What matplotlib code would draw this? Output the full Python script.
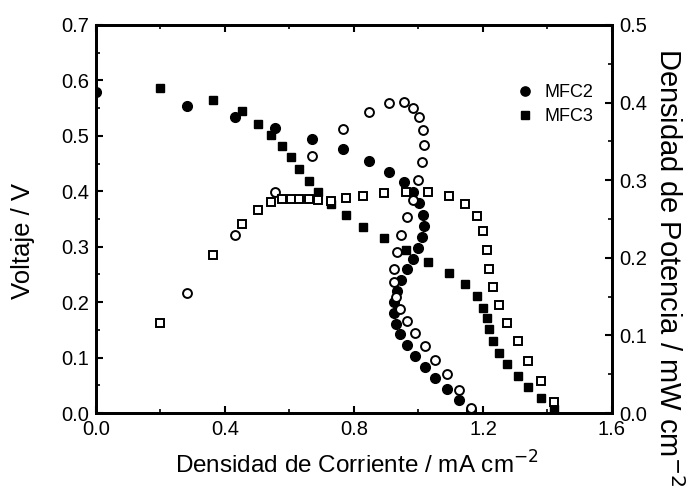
import matplotlib
matplotlib.use("Agg")
import matplotlib.pyplot as plt
from matplotlib.ticker import MultipleLocator, FormatStrFormatter

plt.rcParams['font.family'] = ['Liberation Sans', 'DejaVu Sans']

# MFC2: current density (mA cm-2), voltage (V), power density (mW cm-2)
mfc2_j = [0.0, 0.283, 0.431, 0.555, 0.669, 0.767, 0.848, 0.909, 0.955, 0.984,
          1.003, 1.013, 1.017, 1.011, 0.998, 0.982, 0.963, 0.946, 0.932, 0.924,
          0.924, 0.929, 0.943, 0.963, 0.989, 1.019, 1.051, 1.087, 1.125, 1.163]
mfc2_v = [0.580, 0.554, 0.534, 0.514, 0.495, 0.476, 0.455, 0.435, 0.416, 0.398,
          0.378, 0.357, 0.338, 0.318, 0.297, 0.277, 0.259, 0.240, 0.221, 0.200,
          0.180, 0.161, 0.143, 0.122, 0.102, 0.083, 0.063, 0.044, 0.024, 0.005]
mfc2_p = [None, 0.155, 0.230, 0.285, 0.331, 0.366, 0.388, 0.399, 0.401, 0.393,
          0.381, 0.365, 0.346, 0.323, 0.300, 0.275, 0.252, 0.229, 0.207, 0.186,
          0.169, 0.150, 0.134, 0.119, 0.1035, 0.086, 0.068, 0.050, 0.030, 0.007]

# MFC3: current density (mA cm-2), voltage (V), power density (mW cm-2)
mfc3_j = [0.198, 0.364, 0.452, 0.503, 0.543, 0.576, 0.604, 0.631, 0.659, 0.690,
          0.728, 0.774, 0.827, 0.893, 0.961, 1.031, 1.094, 1.143, 1.182, 1.200,
          1.211, 1.218, 1.230, 1.251, 1.276, 1.308, 1.341, 1.379, 1.420]
mfc3_v = [0.586, 0.564, 0.544, 0.522, 0.502, 0.482, 0.461, 0.440, 0.419, 0.399,
          0.377, 0.357, 0.336, 0.315, 0.294, 0.273, 0.253, 0.232, 0.211, 0.190,
          0.171, 0.152, 0.1305, 0.109, 0.0885, 0.067, 0.0475, 0.027, 0.007]
mfc3_p = [0.116, 0.204, 0.243, 0.262, 0.272, 0.276, 0.276, 0.276, 0.276, 0.275,
          0.273, 0.277, 0.280, 0.284, 0.285, 0.285, 0.280, 0.269, 0.254, 0.234,
          0.210, 0.186, 0.163, 0.139, 0.116, 0.093, 0.067, 0.041, 0.014]

x_ticks = [0.0, 0.4, 0.8, 1.2, 1.6]

fig = plt.figure(figsize=(6.99, 4.96), dpi=100)
ax = fig.add_axes([0.1373, 0.1673, 0.8755 - 0.1373, 0.9496 - 0.1673])
ax2 = ax.twinx()

ax.plot(mfc2_j, mfc2_v, 'o', color='black', ms=7.0, label='MFC2', zorder=3)
ax.plot(mfc3_j, mfc3_v, 's', color='black', ms=6.2, label='MFC3', zorder=3)

p2 = [(j, p) for j, p in zip(mfc2_j, mfc2_p) if p is not None]
ax2.plot([a for a, _ in p2], [b for _, b in p2], 'o', mfc='white', mec='black',
         mew=1.4, ms=6.4, zorder=3)
ax2.plot(mfc3_j, mfc3_p, 's', mfc='white', mec='black', mew=1.4, ms=5.8, zorder=3)

ax.set_xlim(0, 1.6)
ax.set_ylim(0, 0.7)
ax2.set_ylim(0, 0.5)
ax.set_xticks(x_ticks)
ax.set_xticklabels([f"{t:.1f}" for t in x_ticks])
ax.xaxis.set_minor_locator(MultipleLocator(0.2))
ax.yaxis.set_major_locator(MultipleLocator(0.1))
ax.yaxis.set_minor_locator(MultipleLocator(0.05))
ax2.yaxis.set_major_locator(MultipleLocator(0.1))
ax2.yaxis.set_minor_locator(MultipleLocator(0.05))
ax.yaxis.set_major_formatter(FormatStrFormatter('%.1f'))
ax2.yaxis.set_major_formatter(FormatStrFormatter('%.1f'))

for a in (ax, ax2):
    for s in a.spines.values():
        s.set_linewidth(2.0)
tick_fs = 14.5
ax.tick_params(axis='x', which='both', direction='in', top=True, bottom=True,
               labelsize=tick_fs, pad=5)
ax.tick_params(axis='y', which='both', direction='in', left=True, right=False,
               labelsize=tick_fs, pad=5)
ax.tick_params(which='major', length=5, width=1.5)
ax.tick_params(which='minor', length=3, width=1.2)
ax2.tick_params(axis='y', which='both', direction='in', labelsize=tick_fs, pad=5)
ax2.tick_params(which='major', length=5, width=1.5)
ax2.tick_params(which='minor', length=3, width=1.2)

ax.set_xlabel('Densidad de Corriente / mA cm$^{-2}$', fontsize=17.5)
ax.xaxis.set_label_coords(0.505, -0.098)

ax.set_ylabel('Voltaje / V', fontsize=18.5)
ax.yaxis.label.set(va='center', ha='center', rotation_mode='anchor')
ax.yaxis.set_label_coords(-0.142, 0.443)

ax2.set_ylabel('Densidad de Potencia / mW cm$^{-2}$', fontsize=21, rotation=-90)
ax2.yaxis.label.set(va='center', ha='center', rotation_mode='anchor')
ax2.yaxis.set_label_coords(1.108, 0.375)

leg = ax.legend(loc='upper left', bbox_to_anchor=(0.80, 0.866), frameon=False,
                fontsize=13, handletextpad=0.6, labelspacing=0.4,
                markerscale=0.95, handlelength=1.0, borderaxespad=0)

fig.savefig('out.png', dpi=100)
